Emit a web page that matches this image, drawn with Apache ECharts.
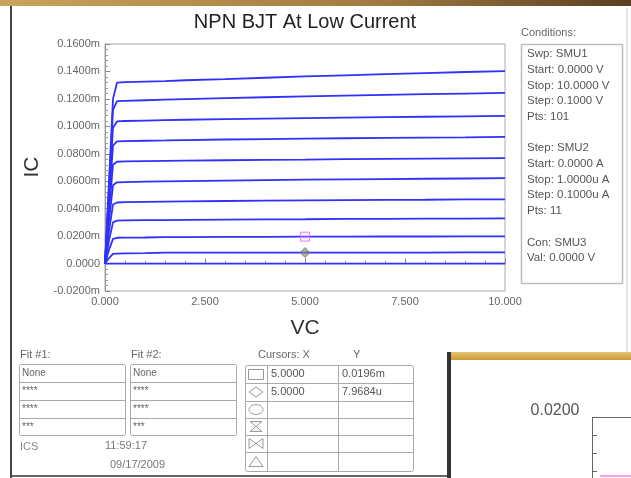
<!DOCTYPE html>
<html>
<head>
<meta charset="utf-8">
<script src="https://cdn.jsdelivr.net/npm/echarts@6/dist/echarts.min.js"></script>
<style>
  html, body { margin: 0; padding: 0; background: #fff; }
  #main { width: 631px; height: 478px; }
</style>
</head>
<body>
<div id="main"></div>
<script>
// 扫描电压 VC (V)
var vcPoints = [0, 0.1, 0.2, 0.3, 0.5, 1, 1.5, 2, 3, 4, 5, 6, 7, 8, 9, 10];
// 各基极电流 IB 下的 IC (mA)
var icIb10 = [0, 0.060, 0.120, 0.1318, 0.1322, 0.1326, 0.1330, 0.1336, 0.1344, 0.1354, 0.1364, 0.1372, 0.1380, 0.1388, 0.1396, 0.1403];
var icIb09 = [0, 0.055, 0.112, 0.1183, 0.1186, 0.1190, 0.1194, 0.1198, 0.1205, 0.1212, 0.1218, 0.1224, 0.1229, 0.1234, 0.1239, 0.1244];
var icIb08 = [0, 0.050, 0.099, 0.1036, 0.1039, 0.1042, 0.1045, 0.1048, 0.1052, 0.1056, 0.1060, 0.1064, 0.1067, 0.1070, 0.1073, 0.1076];
var icIb07 = [0, 0.045, 0.086, 0.0890, 0.0892, 0.0895, 0.0897, 0.0900, 0.0904, 0.0907, 0.0910, 0.0913, 0.0916, 0.0918, 0.0920, 0.0923];
var icIb06 = [0, 0.038, 0.072, 0.0742, 0.0744, 0.0746, 0.0748, 0.0750, 0.0753, 0.0756, 0.0758, 0.0761, 0.0763, 0.0765, 0.0767, 0.0769];
var icIb05 = [0, 0.031, 0.057, 0.0592, 0.0594, 0.0597, 0.0599, 0.0601, 0.0605, 0.0608, 0.0611, 0.0614, 0.0616, 0.0618, 0.0620, 0.0622];
var icIb04 = [0, 0.024, 0.043, 0.0445, 0.0447, 0.0449, 0.0451, 0.0453, 0.0456, 0.0458, 0.0460, 0.0462, 0.0464, 0.0465, 0.0467, 0.0468];
var icIb03 = [0, 0.017, 0.030, 0.0313, 0.0314, 0.0316, 0.0317, 0.0318, 0.0320, 0.0322, 0.0323, 0.0325, 0.0326, 0.0327, 0.0328, 0.0329];
var icIb02 = [0, 0.010, 0.018, 0.0188, 0.0189, 0.0190, 0.0192, 0.0193, 0.0194, 0.0195, 0.0196, 0.0196, 0.0197, 0.0197, 0.0198, 0.0198];
var icIb01 = [0, 0.004, 0.0070, 0.0073, 0.0074, 0.0076, 0.0079, 0.0079, 0.0079, 0.0080, 0.0080, 0.0080, 0.0080, 0.0080, 0.0081, 0.0081];
var icIb00 = [0, 0, 0, 0, 0, 0, 0, 0, 0, 0, 0, 0, 0, 0, 0, 0];
var curves = [icIb00, icIb01, icIb02, icIb03, icIb04, icIb05, icIb06, icIb07, icIb08, icIb09, icIb10];
// 光标位置
var cursorBox = [5, 0.0196];
var cursorDiamond = [5, 0.0080];
// 轴范围
var yMin = -0.02, yMax = 0.16, yStep = 0.02;
var xMin = 0, xMax = 10, xStep = 2.5;
// 面板文字
var conditionLines = ['Swp: SMU1', 'Start: 0.0000 V', 'Stop: 10.0000 V', 'Step: 0.1000 V', 'Pts: 101', '',
  'Step: SMU2', 'Start: 0.0000 A', 'Stop: 1.0000u A', 'Step: 0.1000u A', 'Pts: 11', '',
  'Con: SMU3', 'Val: 0.0000 V'];
var fitRows = ['None', '****', '****', '***'];
var cursorX = ['5.0000', '5.0000', '', '', '', ''];
var cursorY = ['0.0196m', '7.9684u', '', '', '', ''];

(function() {
    var myChart = echarts.init(document.getElementById('main'), null, { renderer: 'canvas' });
    var FONT = '"Liberation Sans", Arial, sans-serif';

    function text(x, y, str, size, color, align, vAlign) {
        return {
            type: 'text', silent: true,
            style: {
                x: x, y: y, text: str, fill: color || '#555',
                font: (size || 11) + 'px ' + FONT,
                align: align || 'left', verticalAlign: vAlign || 'middle'
            }
        };
    }
    function rect(x, y, w, h, stroke, fill, r, lw) {
        return {
            type: 'rect', silent: true,
            shape: { x: x, y: y, width: w, height: h, r: r || 0 },
            style: { fill: fill || 'none', stroke: stroke || 'none', lineWidth: lw || 1 }
        };
    }
    function line(x1, y1, x2, y2, color, lw) {
        return {
            type: 'line', silent: true,
            shape: { x1: x1, y1: y1, x2: x2, y2: y2 },
            style: { stroke: color, lineWidth: lw || 1 }
        };
    }
    function poly(points, color) {
        return {
            type: 'polygon', silent: true,
            shape: { points: points },
            style: { fill: 'none', stroke: color, lineWidth: 1 }
        };
    }

    var g = [];
    // 窗口边框
    g.push({
        type: 'rect', silent: true, shape: { x: 0, y: 0, width: 631, height: 6 },
        style: { fill: new echarts.graphic.LinearGradient(0, 0, 1, 0, [
            { offset: 0, color: '#c9a45a' }, { offset: 0.6, color: '#a07a40' }, { offset: 1, color: '#5a3f22' }]) }
    });
    g.push(line(11, 6, 11, 478, '#444', 2));
    g.push(line(12, 476, 447, 476, '#666', 2));
    g.push(line(627, 8, 627, 352, '#ccc', 1));
    // 标题与轴名
    g.push(text(305, 22, 'NPN BJT At Low Current', 20, '#222', 'center'));
    g.push({
        type: 'text', silent: true, x: 32, y: 167, rotation: Math.PI / 2,
        style: { x: 0, y: 0, text: 'IC', fill: '#333', font: '21px ' + FONT, align: 'center', verticalAlign: 'middle' }
    });
    g.push(text(305, 328, 'VC', 21, '#333', 'center'));

    // Conditions 面板
    g.push(text(521, 33, 'Conditions:', 11, '#666'));
    g.push(rect(521.5, 44.5, 101, 239, '#bbb', '#fff', 1, 1.5));
    conditionLines.forEach(function(s, i) {
        if (s) g.push(text(527, 54 + i * 15.7, s, 11.5, '#555'));
    });

    // Fit 表格
    [[19, 'Fit #1:'], [130, 'Fit #2:']].forEach(function(f) {
        var x0 = f[0];
        g.push(text(x0 + 1, 355, f[1], 11, '#666'));
        g.push(rect(x0 + 0.5, 364.5, 106, 71, '#aaa', '#fff', 2));
        [382.5, 400.5, 418.5].forEach(function(yy) { g.push(line(x0, yy, x0 + 107, yy, '#aaa')); });
        fitRows.forEach(function(s, i) { g.push(text(x0 + 3, 373 + i * 18, s, 10, '#666')); });
    });
    g.push(text(20, 447, 'ICS', 11, '#888'));
    g.push(text(105, 446, '11:59:17', 11, '#777'));
    g.push(text(110, 465, '09/17/2009', 11, '#777'));

    // Cursors 表格
    g.push(text(258, 355, 'Cursors: X', 11, '#666'));
    g.push(text(353, 355, 'Y', 11, '#666'));
    var rowsY = [365, 383, 401, 418, 435, 452, 471];
    g.push(rect(245.5, 365.5, 168, 106, '#aaa', '#fff', 2));
    g.push(line(267.5, 365, 267.5, 471, '#aaa'));
    g.push(line(338.5, 365, 338.5, 471, '#aaa'));
    for (var r = 1; r < rowsY.length - 1; r++) g.push(line(245, rowsY[r] + 0.5, 413, rowsY[r] + 0.5, '#aaa'));
    for (var r2 = 0; r2 < 6; r2++) {
        var cy = (rowsY[r2] + rowsY[r2 + 1]) / 2;
        if (cursorX[r2]) g.push(text(271, cy, cursorX[r2], 11, '#555'));
        if (cursorY[r2]) g.push(text(342, cy, cursorY[r2], 11, '#555'));
    }
    // 光标图标
    var ic = '#999', cx = 256;
    var c0 = (rowsY[0] + rowsY[1]) / 2, c1 = (rowsY[1] + rowsY[2]) / 2, c2 = (rowsY[2] + rowsY[3]) / 2;
    var c3 = (rowsY[3] + rowsY[4]) / 2, c4 = (rowsY[4] + rowsY[5]) / 2, c5 = (rowsY[5] + rowsY[6]) / 2;
    g.push(rect(cx - 7.5, c0 - 4.5, 15, 10, ic));
    g.push(poly([[cx - 7, c1], [cx, c1 - 5], [cx + 7, c1], [cx, c1 + 5]], ic));
    g.push({ type: 'ellipse', silent: true, shape: { cx: cx, cy: c2, rx: 7, ry: 5 }, style: { fill: 'none', stroke: ic } });
    g.push(poly([[cx - 6, c3 - 5], [cx + 6, c3 - 5], [cx - 6, c3 + 5], [cx + 6, c3 + 5]], ic));
    g.push(poly([[cx - 7, c4 - 5], [cx + 7, c4 + 5], [cx + 7, c4 - 5], [cx - 7, c4 + 5]], ic));
    g.push(poly([[cx - 7, c5 + 5], [cx, c5 - 5], [cx + 7, c5 + 5]], ic));

    // 右下角重叠窗口
    g.push(rect(447, 352, 184, 126, null, '#fff'));
    g.push({
        type: 'rect', silent: true, shape: { x: 447, y: 352, width: 184, height: 8 },
        style: { fill: new echarts.graphic.LinearGradient(0, 0, 0, 1, [
            { offset: 0, color: '#e6c26a' }, { offset: 1, color: '#c89a3c' }]) }
    });
    g.push(line(449, 352, 449, 478, '#333', 4));
    g.push(text(555, 411, '0.0200', 16, '#555', 'center'));
    g.push(line(592.5, 417, 592.5, 478, '#666', 1));
    g.push(line(592, 417.5, 631, 417.5, '#666', 1));
    [435, 453, 471].forEach(function(yy) { g.push(line(592, yy + 0.5, 597, yy + 0.5, '#666')); });
    g.push(line(600, 476, 631, 476, '#f0a0f0', 2));

    var series = curves.map(function(c, i) {
        return {
            name: 'IB' + i, type: 'line', showSymbol: false, silent: true,
            data: vcPoints.map(function(v, k) { return [v, c[k]]; }),
            lineStyle: { color: '#3030ff', width: 1.8 },
            z: 2
        };
    });
    series.push({
        type: 'scatter', symbol: 'rect', symbolSize: 9, silent: true, z: 5,
        data: [cursorBox],
        itemStyle: { color: 'rgba(255,170,255,0.35)', borderColor: '#e070e0', borderWidth: 1 }
    });
    series.push({
        type: 'scatter', symbol: 'diamond', symbolSize: [10, 10], silent: true, z: 5,
        data: [cursorDiamond],
        itemStyle: { color: 'rgba(130,130,130,0.8)', borderColor: '#777', borderWidth: 1 }
    });

    var option = {
        animation: false,
        backgroundColor: '#fff',
        textStyle: { fontFamily: FONT },
        grid: {
            left: 105, right: 126, top: 44, bottom: 187,
            show: true, borderColor: '#aaa', borderWidth: 1, backgroundColor: '#fff'
        },
        xAxis: {
            type: 'value', min: xMin, max: xMax, interval: xStep,
            axisLine: { lineStyle: { color: '#999' } },
            axisTick: { inside: true, length: 5, lineStyle: { color: '#888' } },
            minorTick: { show: true, splitNumber: 5, length: 3, lineStyle: { color: '#999' } },
            splitLine: { show: false },
            axisLabel: { color: '#666', fontSize: 11, margin: 5, formatter: function(v) { return v.toFixed(3); } }
        },
        yAxis: {
            type: 'value', min: yMin, max: yMax, interval: yStep,
            axisLine: { lineStyle: { color: '#999' } },
            axisTick: { inside: true, length: 5, lineStyle: { color: '#888' } },
            minorTick: { show: true, splitNumber: 5, length: 3, lineStyle: { color: '#999' } },
            splitLine: { show: false },
            axisLabel: {
                color: '#666', fontSize: 11, margin: 5, padding: [0, 0, 5, 0],
                formatter: function(v) {
                    if (Math.abs(v) < 1e-9) return '0.0000';
                    return v.toFixed(4) + 'm';
                }
            }
        },
        series: series,
        graphic: g
    };
    myChart.setOption(option);
    window.addEventListener('resize', function() {
        myChart.resize();
    });
})();
</script>
</body>
</html>
